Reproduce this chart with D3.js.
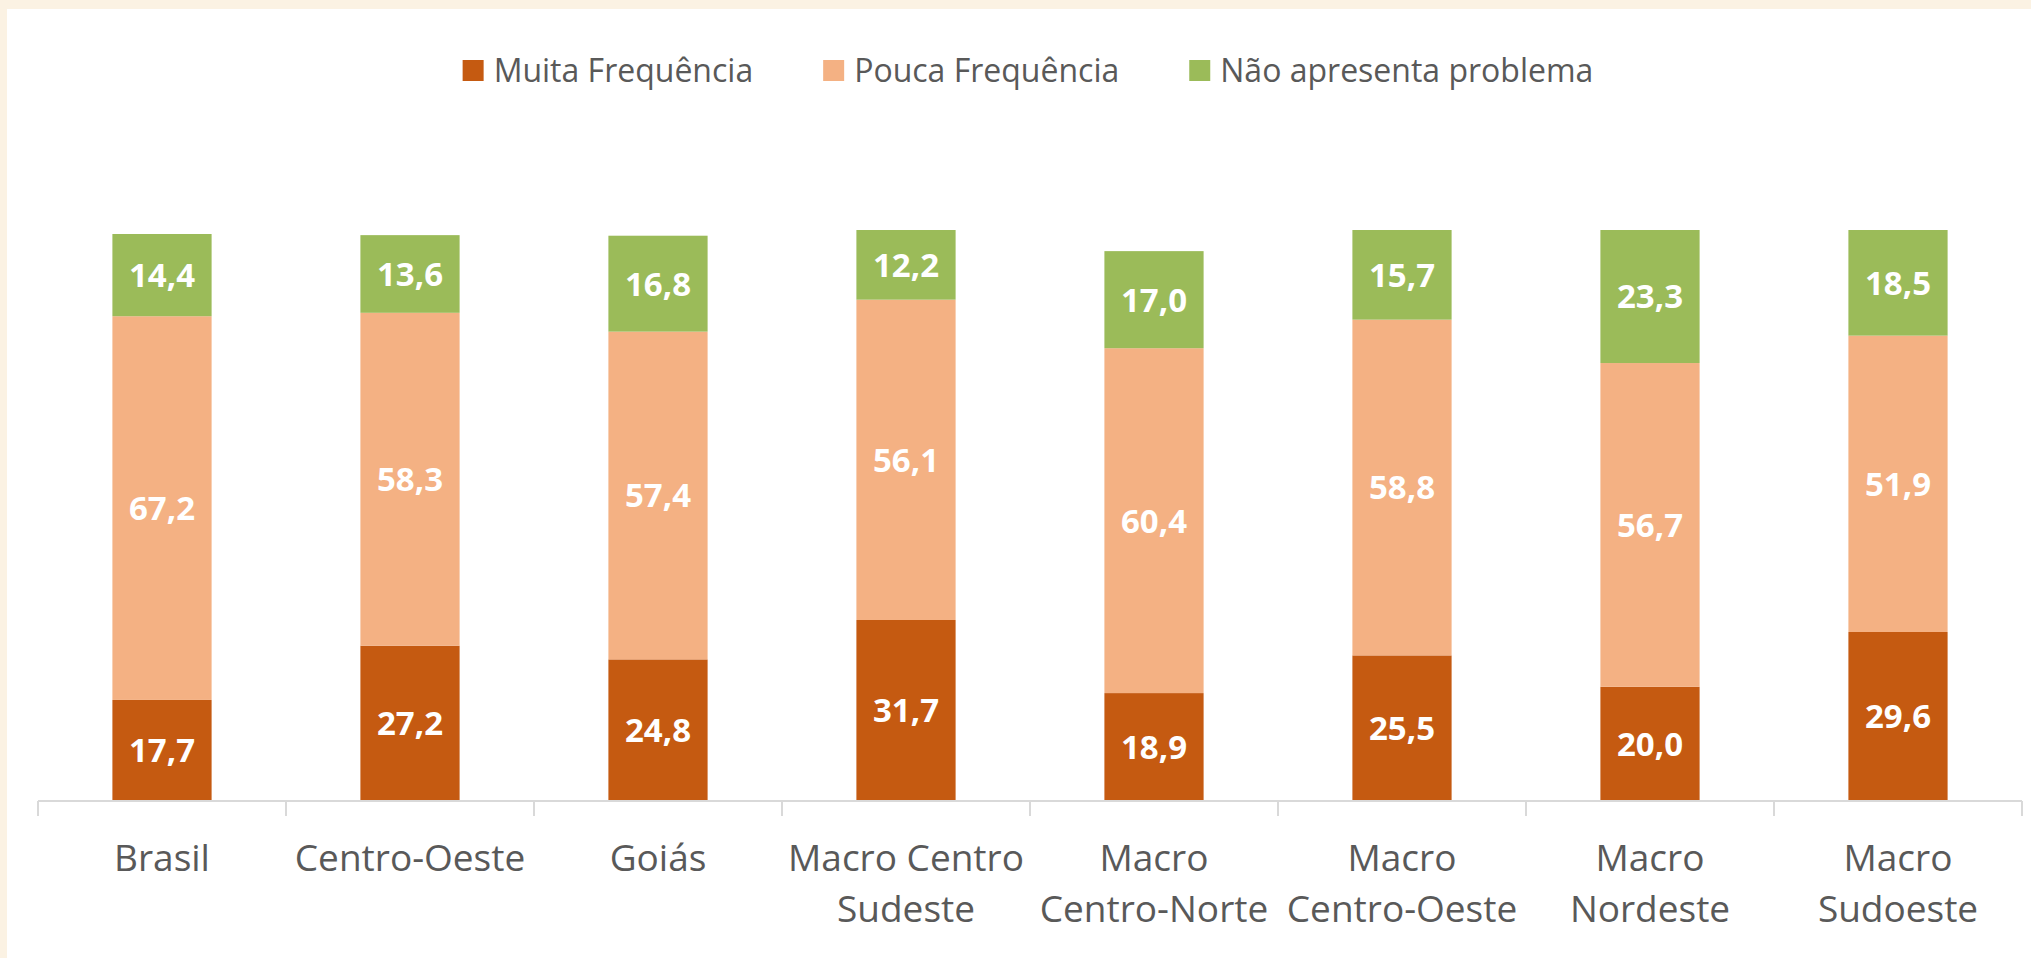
<!DOCTYPE html>
<html>
<head>
<meta charset="utf-8">
<script src="https://cdn.jsdelivr.net/npm/d3@7"></script>
<style>
  html, body { margin: 0; padding: 0; background: #FBF2E3; }
  svg { display: block; }
</style>
</head>
<body>
<script>
// ---- data ----
const categories = ["Brasil", "Centro-Oeste", "Goiás", "Macro Centro Sudeste", "Macro Centro-Norte", "Macro Centro-Oeste", "Macro Nordeste", "Macro Sudoeste"];
const tickLabels = [["Brasil"], ["Centro-Oeste"], ["Goiás"], ["Macro Centro", "Sudeste"], ["Macro", "Centro-Norte"], ["Macro", "Centro-Oeste"], ["Macro", "Nordeste"], ["Macro", "Sudoeste"]];
const seriesNames = ["Muita Frequência", "Pouca Frequência", "Não apresenta problema"];
const muitaFrequencia = [17.7, 27.2, 24.8, 31.7, 18.9, 25.5, 20.0, 29.6];
const poucaFrequencia = [67.2, 58.3, 57.4, 56.1, 60.4, 58.8, 56.7, 51.9];
const naoApresenta = [14.4, 13.6, 16.8, 12.2, 17.0, 15.7, 23.3, 18.5];
const colors = ["#C55A11", "#F4B183", "#9BBB59"];

// ---- layout ----
const W = 2031, H = 958;
const svg = d3.select("body").append("svg").attr("width", W).attr("height", H);

// cream surround + white panel
svg.append("rect").attr("x", 0).attr("y", 0).attr("width", W).attr("height", H).attr("fill", "#FBF2E3");
svg.append("rect").attr("x", 7).attr("y", 9).attr("width", W - 7).attr("height", H - 9).attr("fill", "#FFFFFF");

const table = categories.map((c, i) => ({
  cat: c,
  [seriesNames[0]]: muitaFrequencia[i],
  [seriesNames[1]]: poucaFrequencia[i],
  [seriesNames[2]]: naoApresenta[i]
}));
const stacked = d3.stack().keys(seriesNames)(table);

const x = d3.scaleBand().domain(categories).range([38, 2022]).paddingInner(0.6).paddingOuter(0.3);
const y = d3.scaleLinear().domain([0, 100]).range([801, 230]);
const color = d3.scaleOrdinal().domain(seriesNames).range(colors);
const fmt = d3.formatLocale({ decimal: ",", thousands: ".", grouping: [3], currency: ["R$", ""] }).format(".1f");

const font = "'Open Sans', 'DejaVu Sans', sans-serif";

// bars
const layers = svg.append("g").selectAll("g").data(stacked).join("g").attr("fill", d => color(d.key));
layers.selectAll("rect").data(d => d).join("rect")
  .attr("x", d => x(d.data.cat))
  .attr("width", x.bandwidth())
  .attr("y", d => y(d[1]))
  .attr("height", d => y(d[0]) - y(d[1]));

// data labels
const labelG = svg.append("g");
stacked.forEach(layer => {
  labelG.selectAll(null).data(layer).join("text")
    .attr("x", d => x(d.data.cat) + x.bandwidth() / 2)
    .attr("y", d => (y(d[0]) + y(d[1])) / 2)
    .attr("dy", "0.36em")
    .attr("text-anchor", "middle")
    .attr("font-family", font)
    .attr("font-weight", 700)
    .attr("font-size", 33)
    .attr("fill", "#FFFFFF")
    .text(d => fmt(d[1] - d[0]));
});

// x axis
const step = x.step();
const axisY = 801;
const axisG = svg.append("g").attr("transform", `translate(0,${axisY})`);
const edges = categories.map(c => x(c) + x.bandwidth() / 2 - step / 2);
edges.push(x(categories[categories.length - 1]) + x.bandwidth() / 2 + step / 2);
axisG.append("line").attr("x1", edges[0]).attr("x2", edges[edges.length - 1]).attr("y1", 0).attr("y2", 0)
  .attr("stroke", "#D9D9D9").attr("stroke-width", 2);
axisG.selectAll("line.tick").data(edges).join("line").attr("class", "tick")
  .attr("x1", d => d).attr("x2", d => d).attr("y1", 0).attr("y2", 15)
  .attr("stroke", "#D9D9D9").attr("stroke-width", 2);

const tl = axisG.selectAll("text.cat").data(categories).join("text").attr("class", "cat")
  .attr("x", d => x(d) + x.bandwidth() / 2)
  .attr("text-anchor", "middle")
  .attr("font-family", font)
  .attr("font-size", 37)
  .attr("fill", "#595959");
tl.each(function(d, i) {
  const t = d3.select(this);
  tickLabels[i].forEach((line, j) => {
    t.append("tspan").attr("x", x(d) + x.bandwidth() / 2).attr("y", 70 + j * 51).text(line);
  });
});

// legend
const legend = svg.append("g");
const items = legend.selectAll("g").data(seriesNames).join("g");
items.append("rect").attr("width", 21).attr("height", 21).attr("y", 60).attr("fill", d => color(d));
items.append("text").attr("x", 31).attr("y", 82)
  .attr("font-family", font).attr("font-size", 32).attr("fill", "#595959").text(d => d);
const widths = [];
items.each(function() {
  const w = d3.select(this).select("text").node().getComputedTextLength();
  widths.push(31 + w);
});
const total = d3.sum(widths) + 70 * (widths.length - 1);
let start = 1028 - total / 2;
items.attr("transform", (d, i) => {
  const tx = start;
  start += widths[i] + 70;
  return `translate(${tx},0)`;
});
</script>
</body>
</html>
